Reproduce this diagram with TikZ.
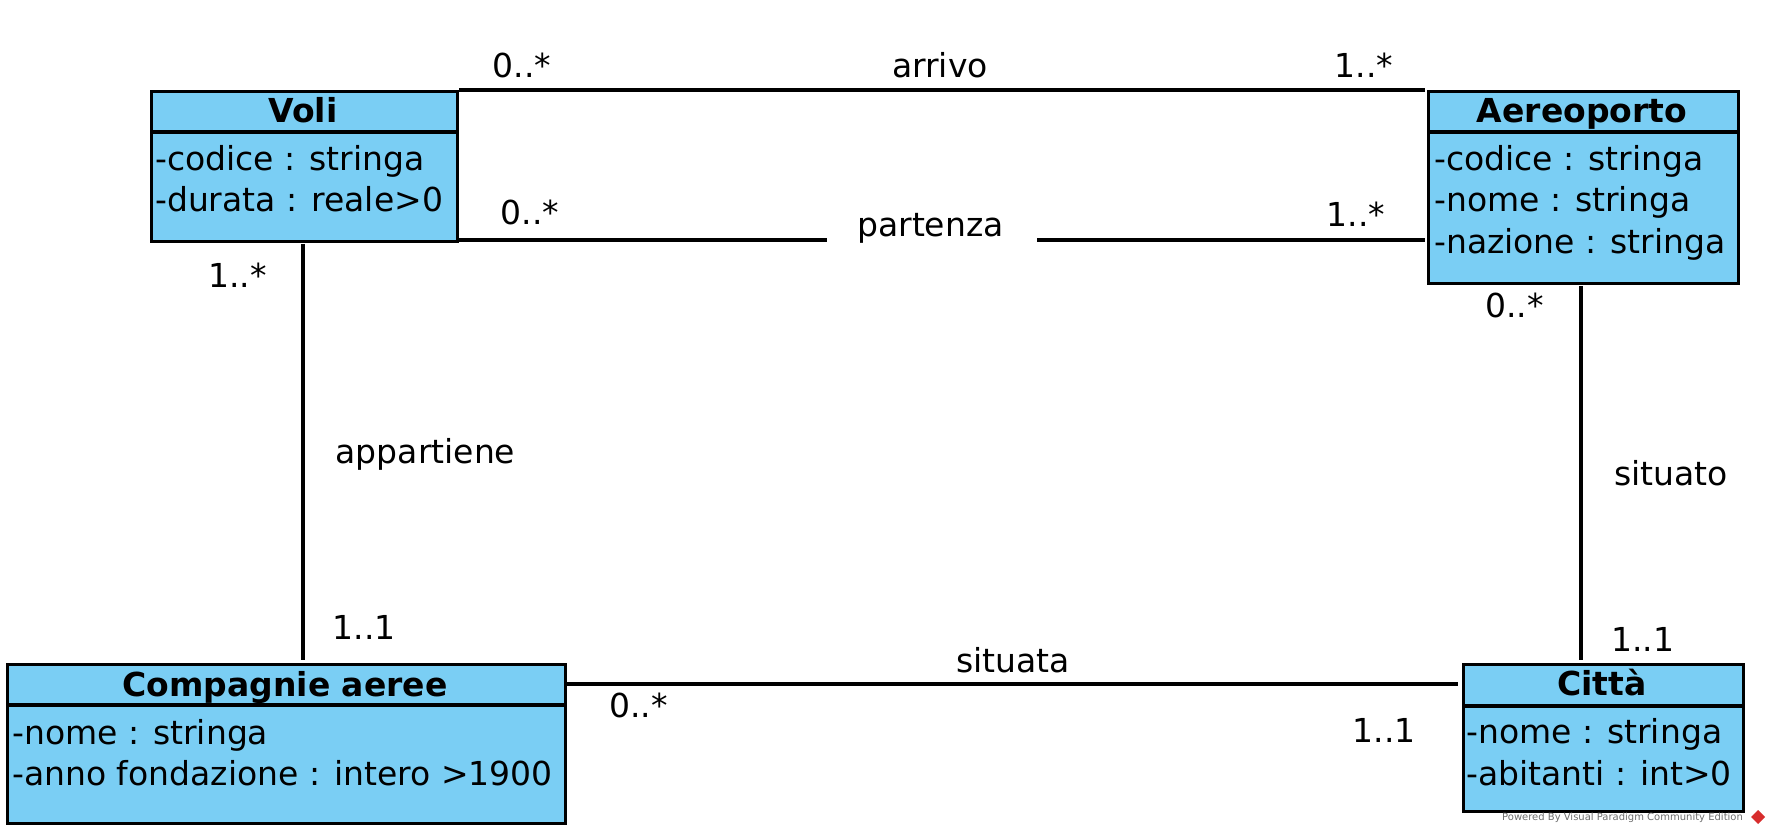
\documentclass[tikz,border=0pt]{standalone}
\usepackage{fontspec}
\setmainfont{DejaVu Sans}
\definecolor{clsfill}{RGB}{122,206,244}
\definecolor{wmgray}{RGB}{110,110,110}
\definecolor{wmred}{RGB}{215,45,45}
\begin{document}
\begin{tikzpicture}[x=1pt,y=-1pt,
  cls/.style={draw=black,fill=clsfill,line width=3.2pt,inner sep=0pt,anchor=north west},
  conn/.style={draw=black,line width=3.2pt},
  hdr/.style={anchor=base,inner sep=0pt,font=\fontsize{33}{40}\selectfont\bfseries},
  attr/.style={anchor=base west,inner sep=0pt,font=\fontsize{33}{40}\selectfont},
  lbl/.style={anchor=base,inner sep=0pt,font=\fontsize{33}{40}\selectfont}
]
\useasboundingbox (0,0) rectangle (1770,834);

% classes
\node[cls,minimum width=306pt,minimum height=150pt] (voli) at (150,90) {};
\draw[conn] (voli.west |- 0,132) -- (voli.east |- 0,132);
\node[hdr] (voliT) at (303,123) {Voli};
\node[attr] (voliA1) at (155,171) {-codice : stringa};
\node[attr] (voliA2) at (155,212) {-durata : reale>0};

\node[cls,minimum width=310pt,minimum height=192pt] (aero) at (1427,90) {};
\draw[conn] (aero.west |- 0,132) -- (aero.east |- 0,132);
\node[hdr] (aeroT) at (1582,123) {Aereoporto};
\node[attr] (aeroA1) at (1434,170.5) {-codice : stringa};
\node[attr] (aeroA2) at (1434,212) {-nome : stringa};
\node[attr] (aeroA3) at (1434,253.5) {-nazione : stringa};

\node[cls,minimum width=558pt,minimum height=159pt] (comp) at (6,663) {};
\draw[conn] (comp.west |- 0,705) -- (comp.east |- 0,705);
\node[hdr] (compT) at (285,696) {Compagnie aeree};
\node[attr] (compA1) at (12,744) {-nome : stringa};
\node[attr] (compA2) at (12,785) {-anno fondazione : intero >1900};

\node[cls,minimum width=280pt,minimum height=147pt] (citta) at (1462,663) {};
\draw[conn] (citta.west |- 0,706) -- (citta.east |- 0,706);
\node[hdr] (cittaT) at (1602,695) {Città};
\node[attr] (cittaA1) at (1466,743) {-nome : stringa};
\node[attr] (cittaA2) at (1466,785) {-abitanti : int>0};

% connector end points
\coordinate (arrA) at (459,90);
\coordinate (arrB) at (1425,90);
\coordinate (parA) at (459,240);
\coordinate (parGapA) at (827,240);
\coordinate (parGapB) at (1037,240);
\coordinate (parB) at (1425,240);
\coordinate (appA) at (303,244);
\coordinate (appB) at (303,660);
\coordinate (sitA) at (1581,286);
\coordinate (sitB) at (1581,660);
\coordinate (staA) at (567,684);
\coordinate (staB) at (1458,684);

% connectors
\draw[conn] (arrA) -- (arrB);
\draw[conn] (parA) -- (parGapA);
\draw[conn] (parGapB) -- (parB);
\draw[conn] (appA) -- (appB);
\draw[conn] (sitA) -- (sitB);
\draw[conn] (staA) -- (staB);

% labels
\node[lbl] (l1) at (522,78) {0..*};
\node[lbl] (l2) at (940,78) {arrivo};
\node[lbl] (l3) at (1364,78) {1..*};
\node[lbl] (l4) at (530,225) {0..*};
\node[lbl] (l5) at (930.5,237) {partenza};
\node[lbl] (l6) at (1356,227) {1..*};
\node[lbl] (l7) at (237.5,288) {1..*};
\node[lbl] (l8) at (425.5,463) {appartiene};
\node[lbl] (l9) at (364,639) {1..1};
\node[lbl] (l10) at (638.5,717) {0..*};
\node[lbl] (l11) at (1013,672) {situata};
\node[lbl] (l12) at (1384,742) {1..1};
\node[lbl] (l13) at (1642.5,651) {1..1};
\node[lbl] (l14) at (1514.5,318) {0..*};
\node[lbl] (l15) at (1671,485) {situato};

% watermark
\node[anchor=base west,inner sep=0pt,text=wmgray,font=\fontsize{10}{12}\selectfont] (wm) at (1502,820) {Powered By\ Visual Paradigm Community Edition};
\fill[wmred] (1758,810) -- (1765,817) -- (1758,824) -- (1751,817) -- cycle;
\end{tikzpicture}
\end{document}
